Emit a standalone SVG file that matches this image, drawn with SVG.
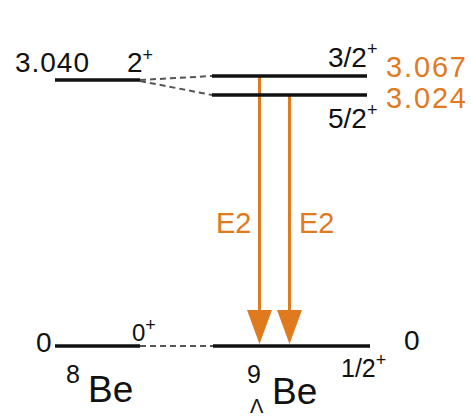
<svg xmlns="http://www.w3.org/2000/svg" width="471" height="419" viewBox="0 0 471 419">
<style>
text{font-family:"Liberation Sans",Arial,sans-serif;fill:#111}
.lvl{stroke:#111;stroke-width:3.5}
.dash{stroke:#555;stroke-width:2;stroke-dasharray:6,4;fill:none}
.or{fill:#E07A1E}
.arr{stroke:#E07A1E;stroke-width:3;fill:none}
.t{font-size:28px}
.sup{font-size:18px}
.big{font-size:37px}
</style>
<g id="connectors">
<path class="dash" d="M140,80 L212,76"/>
<path class="dash" d="M140,81 L212,95"/>
<path class="dash" d="M140,346 L213,346"/>
<line class="arr" x1="259.5" y1="76" x2="259.5" y2="312"/>
<path d="M247,310 L272,310 L259.5,344 Z" class="or"/>
<line class="arr" x1="289.5" y1="95" x2="289.5" y2="312"/>
<path d="M277,310 L302,310 L289.5,344 Z" class="or"/>
</g>
<g id="be8-excited">
<line class="lvl" x1="55" y1="80" x2="140" y2="80"/>
<text x="15" y="72" class="t" textLength="74" lengthAdjust="spacing">3.040</text>
<text x="127" y="72" class="t">2<tspan class="sup" dy="-11">+</tspan></text>
</g>
<g id="be8-ground">
<line class="lvl" x1="55" y1="346" x2="140" y2="346"/>
<text x="36" y="352" class="t">0</text>
<text x="132" y="341" font-size="24">0<tspan class="sup" dy="-10">+</tspan></text>
<text x="66" y="383" font-size="25">8</text>
<text x="88" y="402" class="big">Be</text>
</g>
<g id="lbe9-32">
<line class="lvl" x1="212" y1="76" x2="367" y2="76"/>
<text x="328" y="67" class="t">3/2<tspan class="sup" dy="-12">+</tspan></text>
<text x="386" y="77" font-size="29" class="or" textLength="80" lengthAdjust="spacing">3.067</text>
</g>
<g id="lbe9-52">
<line class="lvl" x1="212" y1="95" x2="367" y2="95"/>
<text x="386" y="108" font-size="29" class="or" textLength="80" lengthAdjust="spacing">3.024</text>
<text x="328" y="128" class="t">5/2<tspan class="sup" dy="-12">+</tspan></text>
</g>
<g id="lbe9-ground">
<line class="lvl" x1="213" y1="346" x2="370" y2="346"/>
<text x="341" y="377" font-size="25">1/2<tspan class="sup" dy="-11">+</tspan></text>
<text x="404" y="350" class="t">0</text>
<text x="247" y="383" font-size="25">9</text>
<text x="250" y="413" font-size="20">Λ</text>
<text x="272" y="404" class="big">Be</text>
</g>
<g id="e2-labels">
<text x="216" y="233" font-size="29" class="or">E2</text>
<text x="299" y="233" font-size="29" class="or">E2</text>
</g>
</svg>
